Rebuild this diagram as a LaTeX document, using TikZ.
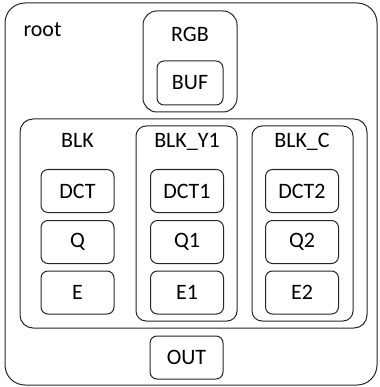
\documentclass[tikz,border=0pt]{standalone}
\usepackage{fontspec}
\setmainfont{Carlito}
\begin{document}
\begin{tikzpicture}[x=1pt, y=-1pt, font=\fontsize{22}{26}\selectfont,
    line width=1pt, draw=black!85,
    box/.style={draw, rounded corners=7pt, minimum width=73pt, minimum height=43pt, inner sep=0pt},
    grp/.style={draw, rounded corners=#1}, grp/.default=12pt]
    \useasboundingbox (0,0) rectangle (379,387);
    % containers
    \draw[grp=20pt] (5,3) rectangle (377,385);
    \draw[grp=14pt] (143,11) rectangle (237,112);
    \draw[grp=13pt] (20,119) rectangle (367,328);
    \draw[grp=10pt] (136,126) rectangle (237,321);
    \draw[grp=10pt] (252,126) rectangle (353,321);
    % labels
    \node[anchor=base west, inner sep=0pt] (root) at (23,37) {root};
    \node[anchor=base, inner sep=0pt] (rgb) at (190,42) {RGB};
    \node[anchor=base, inner sep=0pt] (blk) at (77.5,148) {BLK};
    \node[anchor=base, inner sep=0pt] (blky) at (187,148) {BLK\_Y1};
    \node[anchor=base, inner sep=0pt] (blkc) at (302,148) {BLK\_C};
    % leaves
    \node[box, minimum width=66pt, minimum height=44pt] (buf) at (190,83) {BUF};
    \node[box] (dct) at (77.5,191) {DCT};
    \node[box] (q) at (77.5,242) {Q};
    \node[box] (e) at (77.5,292.5) {E};
    \node[box] (dcta) at (187,191) {DCT1};
    \node[box] (qa) at (187,242) {Q1};
    \node[box] (ea) at (187,292.5) {E1};
    \node[box] (dctb) at (302,191) {DCT2};
    \node[box] (qb) at (302,242) {Q2};
    \node[box] (eb) at (302,292.5) {E2};
    \node[box] (out) at (186.5,357.5) {OUT};
\end{tikzpicture}
\end{document}
